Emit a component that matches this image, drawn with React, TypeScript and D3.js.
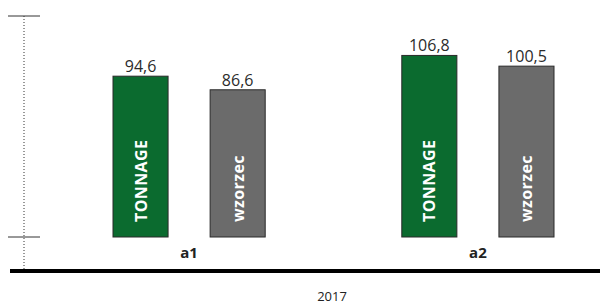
import React, { useEffect, useRef } from "react";
import * as d3 from "d3";

const categories: string[] = ["a1", "a2"];
const seriesNames: string[] = ["TONNAGE", "wzorzec"];
const tonnageValues: number[] = [94.6, 106.8];
const wzorzecValues: number[] = [86.6, 100.5];
const yTicks: number[] = [0, 130];
const yearLabel = "2017";

const seriesColors: { [key: string]: string } = {
  TONNAGE: "#0b6b2f",
  wzorzec: "#6b6b6b",
};

interface BarDatum {
  category: string;
  series: string;
  value: number;
}

const App: React.FC = () => {
  const svgRef = useRef<SVGSVGElement | null>(null);

  useEffect(() => {
    document.body.style.margin = "0";
    const svg = d3.select(svgRef.current);
    svg.selectAll("*").remove();

    const width = 600;
    const height = 306;
    const font = "'Open Sans', 'DejaVu Sans', sans-serif";

    svg.attr("width", width).attr("height", height);

    // build the rows from the small arrays
    const rows: BarDatum[] = [];
    categories.forEach((c, i) => {
      rows.push({ category: c, series: seriesNames[0], value: tonnageValues[i] });
      rows.push({ category: c, series: seriesNames[1], value: wzorzecValues[i] });
    });

    const x0 = d3.scaleBand().domain(categories).range([113, 554]).paddingInner(0.473).paddingOuter(0);
    const x1 = d3.scaleBand().domain(seriesNames).range([0, x0.bandwidth()]).paddingInner(0.433).paddingOuter(0);
    const y = d3.scaleLinear().domain([0, 130]).range([237, 16]);

    const axisX = 24;
    const baselineY = 271;

    // dotted vertical axis
    svg.append("line")
      .attr("x1", axisX).attr("x2", axisX)
      .attr("y1", y(yTicks[1])).attr("y2", baselineY)
      .attr("stroke", "#333")
      .attr("stroke-width", 1)
      .attr("stroke-dasharray", "1,2");

    // ticks crossing the axis
    svg.selectAll(".ytick")
      .data(yTicks)
      .enter()
      .append("line")
      .attr("class", "ytick")
      .attr("x1", axisX - 16).attr("x2", axisX + 16)
      .attr("y1", (d) => y(d)).attr("y2", (d) => y(d))
      .attr("stroke", "#333")
      .attr("stroke-width", 1);

    const groups = svg.selectAll(".group")
      .data(categories)
      .enter()
      .append("g")
      .attr("class", "group")
      .attr("transform", (d) => `translate(${x0(d)},0)`);

    const bars = groups.selectAll(".bar")
      .data((c) => rows.filter((r) => r.category === c))
      .enter();

    bars.append("rect")
      .attr("class", "bar")
      .attr("x", (d) => x1(d.series)!)
      .attr("y", (d) => y(d.value))
      .attr("width", x1.bandwidth())
      .attr("height", (d) => y(0) - y(d.value))
      .attr("fill", (d) => seriesColors[d.series])
      .attr("stroke", "#2a2a2a")
      .attr("stroke-width", 1);

    // value above bar
    bars.append("text")
      .attr("x", (d) => x1(d.series)! + x1.bandwidth() / 2)
      .attr("y", (d) => y(d.value) - 4)
      .attr("text-anchor", "middle")
      .attr("fill", "#2b2b2b")
      .style("font-family", font)
      .style("font-size", "16px")
      .text((d) => d.value.toFixed(1).replace(".", ","));

    // rotated series name inside bar
    bars.append("text")
      .attr("transform", (d) => `translate(${x1(d.series)! + x1.bandwidth() / 2 + 6},${y(0) - 15}) rotate(-90)`)
      .attr("text-anchor", "start")
      .attr("fill", "#ffffff")
      .style("font-family", font)
      .style("font-size", "16px")
      .style("font-weight", "bold")
      .style("letter-spacing", "0.4px")
      .text((d) => d.series);

    // category labels
    groups.append("text")
      .attr("x", x0.bandwidth() / 2)
      .attr("y", 258)
      .attr("text-anchor", "middle")
      .attr("fill", "#222")
      .style("font-family", font)
      .style("font-size", "15px")
      .style("font-weight", "bold")
      .text((d) => d);

    // thick baseline
    svg.append("line")
      .attr("x1", 10).attr("x2", width)
      .attr("y1", baselineY).attr("y2", baselineY)
      .attr("stroke", "#000")
      .attr("stroke-width", 4);

    svg.append("text")
      .attr("x", 332)
      .attr("y", 301)
      .attr("text-anchor", "middle")
      .attr("fill", "#222")
      .style("font-family", font)
      .style("font-size", "13px")
      .text(yearLabel);
  }, []);

  return (
    <div style={{ width: "600px", height: "306px", background: "white" }}>
      <svg ref={svgRef} style={{ display: "block" }} />
    </div>
  );
};

export default App;
